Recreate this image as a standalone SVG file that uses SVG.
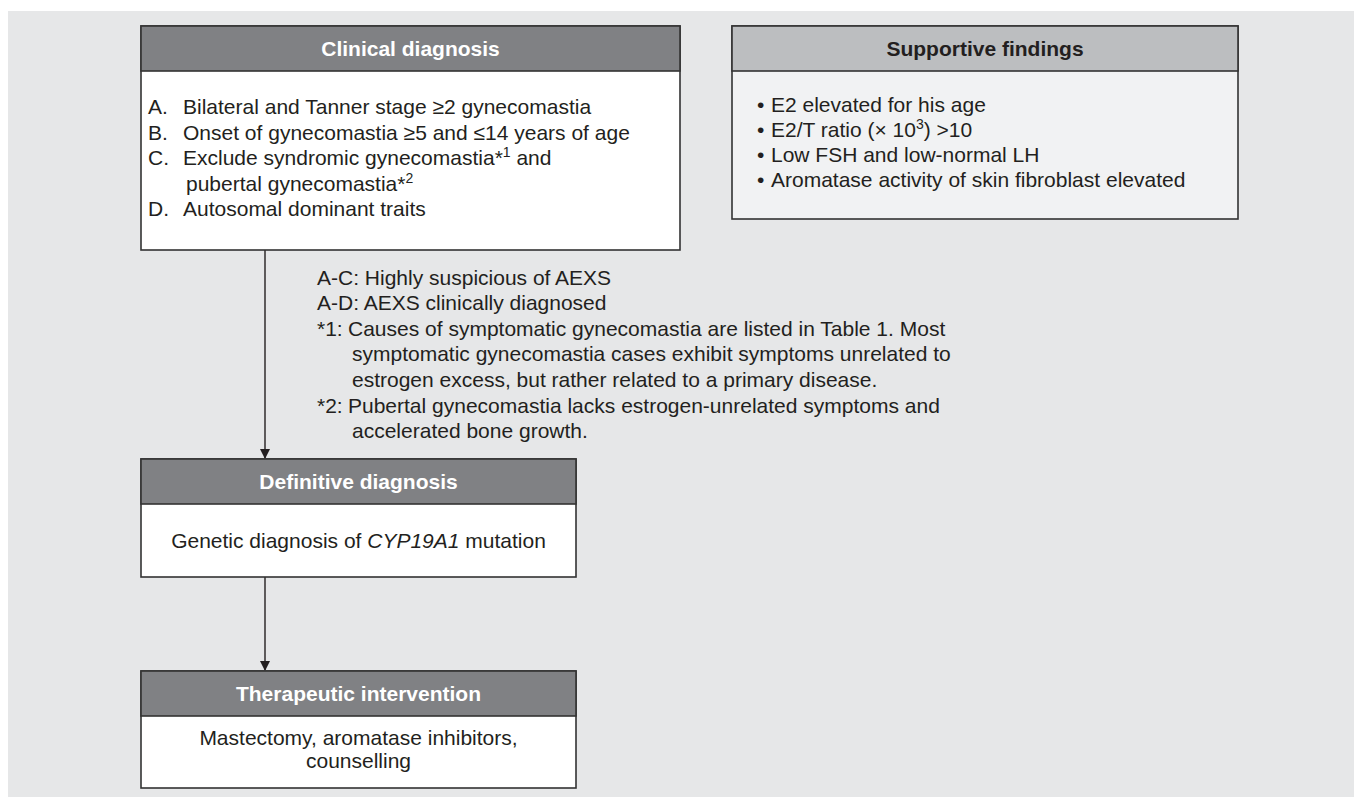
<svg xmlns="http://www.w3.org/2000/svg" width="1354" height="797" viewBox="0 0 1354 797">
<defs>
<style>
text{font-family:"Liberation Sans",Arial,sans-serif;font-size:21px;fill:#231f20}
.hd{font-weight:bold;fill:#ffffff;text-anchor:middle}
.hd2{font-weight:bold;fill:#231f20;text-anchor:middle}
.ctr{text-anchor:middle}
.box{fill:#ffffff;stroke:#333333;stroke-width:1.6}
.hbar{fill:#808184;stroke:#333333;stroke-width:1.6}
.sbox{fill:#f1f2f3;stroke:#333333;stroke-width:1.6}
.sbar{fill:#bcbec0;stroke:#333333;stroke-width:1.6}
.sup{font-size:14px}
.conn{stroke:#231f20;stroke-width:1.4;fill:none}
</style>
<marker id="arr" markerWidth="10" markerHeight="12" refX="9" refY="5" orient="auto" markerUnits="userSpaceOnUse">
<path d="M0,0 L10,5 L0,10 Z" fill="#231f20"/>
</marker>
</defs>
<rect x="0" y="0" width="1354" height="797" fill="#ffffff"/>
<rect x="8" y="11" width="1346" height="786" fill="#e6e7e8"/>

<g id="connectors">
<line class="conn" x1="265" y1="250" x2="265" y2="458" marker-end="url(#arr)"/>
<line class="conn" x1="265" y1="577" x2="265" y2="670" marker-end="url(#arr)"/>
</g>

<g id="clinical">
<rect class="box" x="141" y="26" width="539" height="224"/>
<rect class="hbar" x="141" y="26" width="539" height="45"/>
<text class="hd" x="410.5" y="56">Clinical diagnosis</text>
<text x="148" y="114">A.</text><text x="183" y="114">Bilateral and Tanner stage ≥2 gynecomastia</text>
<text x="148" y="140">B.</text><text x="183" y="140">Onset of gynecomastia ≥5 and ≤14 years of age</text>
<text x="148" y="165">C.</text><text x="183" y="165">Exclude syndromic gynecomastia*<tspan class="sup" dy="-8">1</tspan><tspan dy="8"> and</tspan></text>
<text x="186" y="191">pubertal gynecomastia*<tspan class="sup" dy="-8">2</tspan></text>
<text x="148" y="216">D.</text><text x="183" y="216">Autosomal dominant traits</text>
</g>

<g id="supportive">
<rect class="sbox" x="732" y="26" width="506" height="193"/>
<rect class="sbar" x="732" y="26" width="506" height="45"/>
<text class="hd2" x="985" y="56">Supportive findings</text>
<text x="757" y="112">•</text><text x="771" y="112">E2 elevated for his age</text>
<text x="757" y="137">•</text><text x="771" y="137">E2/T ratio (× 10<tspan class="sup" dy="-8">3</tspan><tspan dy="8">) &gt;10</tspan></text>
<text x="757" y="162">•</text><text x="771" y="162">Low FSH and low-normal LH</text>
<text x="757" y="187">•</text><text x="771" y="187">Aromatase activity of skin fibroblast elevated</text>
</g>

<g id="notes">
<text x="317" y="285">A-C: Highly suspicious of AEXS</text>
<text x="317" y="310">A-D: AEXS clinically diagnosed</text>
<text x="317" y="336">*1:</text><text x="348" y="336">Causes of symptomatic gynecomastia are listed in Table 1. Most</text>
<text x="352" y="361">symptomatic gynecomastia cases exhibit symptoms unrelated to</text>
<text x="352" y="387">estrogen excess, but rather related to a primary disease.</text>
<text x="317" y="413">*2:</text><text x="348" y="413">Pubertal gynecomastia lacks estrogen-unrelated symptoms and</text>
<text x="352" y="438">accelerated bone growth.</text>
</g>

<g id="definitive">
<rect class="box" x="141" y="459" width="435" height="118"/>
<rect class="hbar" x="141" y="459" width="435" height="45"/>
<text class="hd" x="358.5" y="489">Definitive diagnosis</text>
<text class="ctr" x="358.5" y="548">Genetic diagnosis of <tspan font-style="italic">CYP19A1</tspan> mutation</text>
</g>

<g id="therapeutic">
<rect class="box" x="141" y="671" width="435" height="117"/>
<rect class="hbar" x="141" y="671" width="435" height="45"/>
<text class="hd" x="358.5" y="701">Therapeutic intervention</text>
<text class="ctr" x="358.5" y="745">Mastectomy, aromatase inhibitors,</text>
<text class="ctr" x="358.5" y="768">counselling</text>
</g>
</svg>
